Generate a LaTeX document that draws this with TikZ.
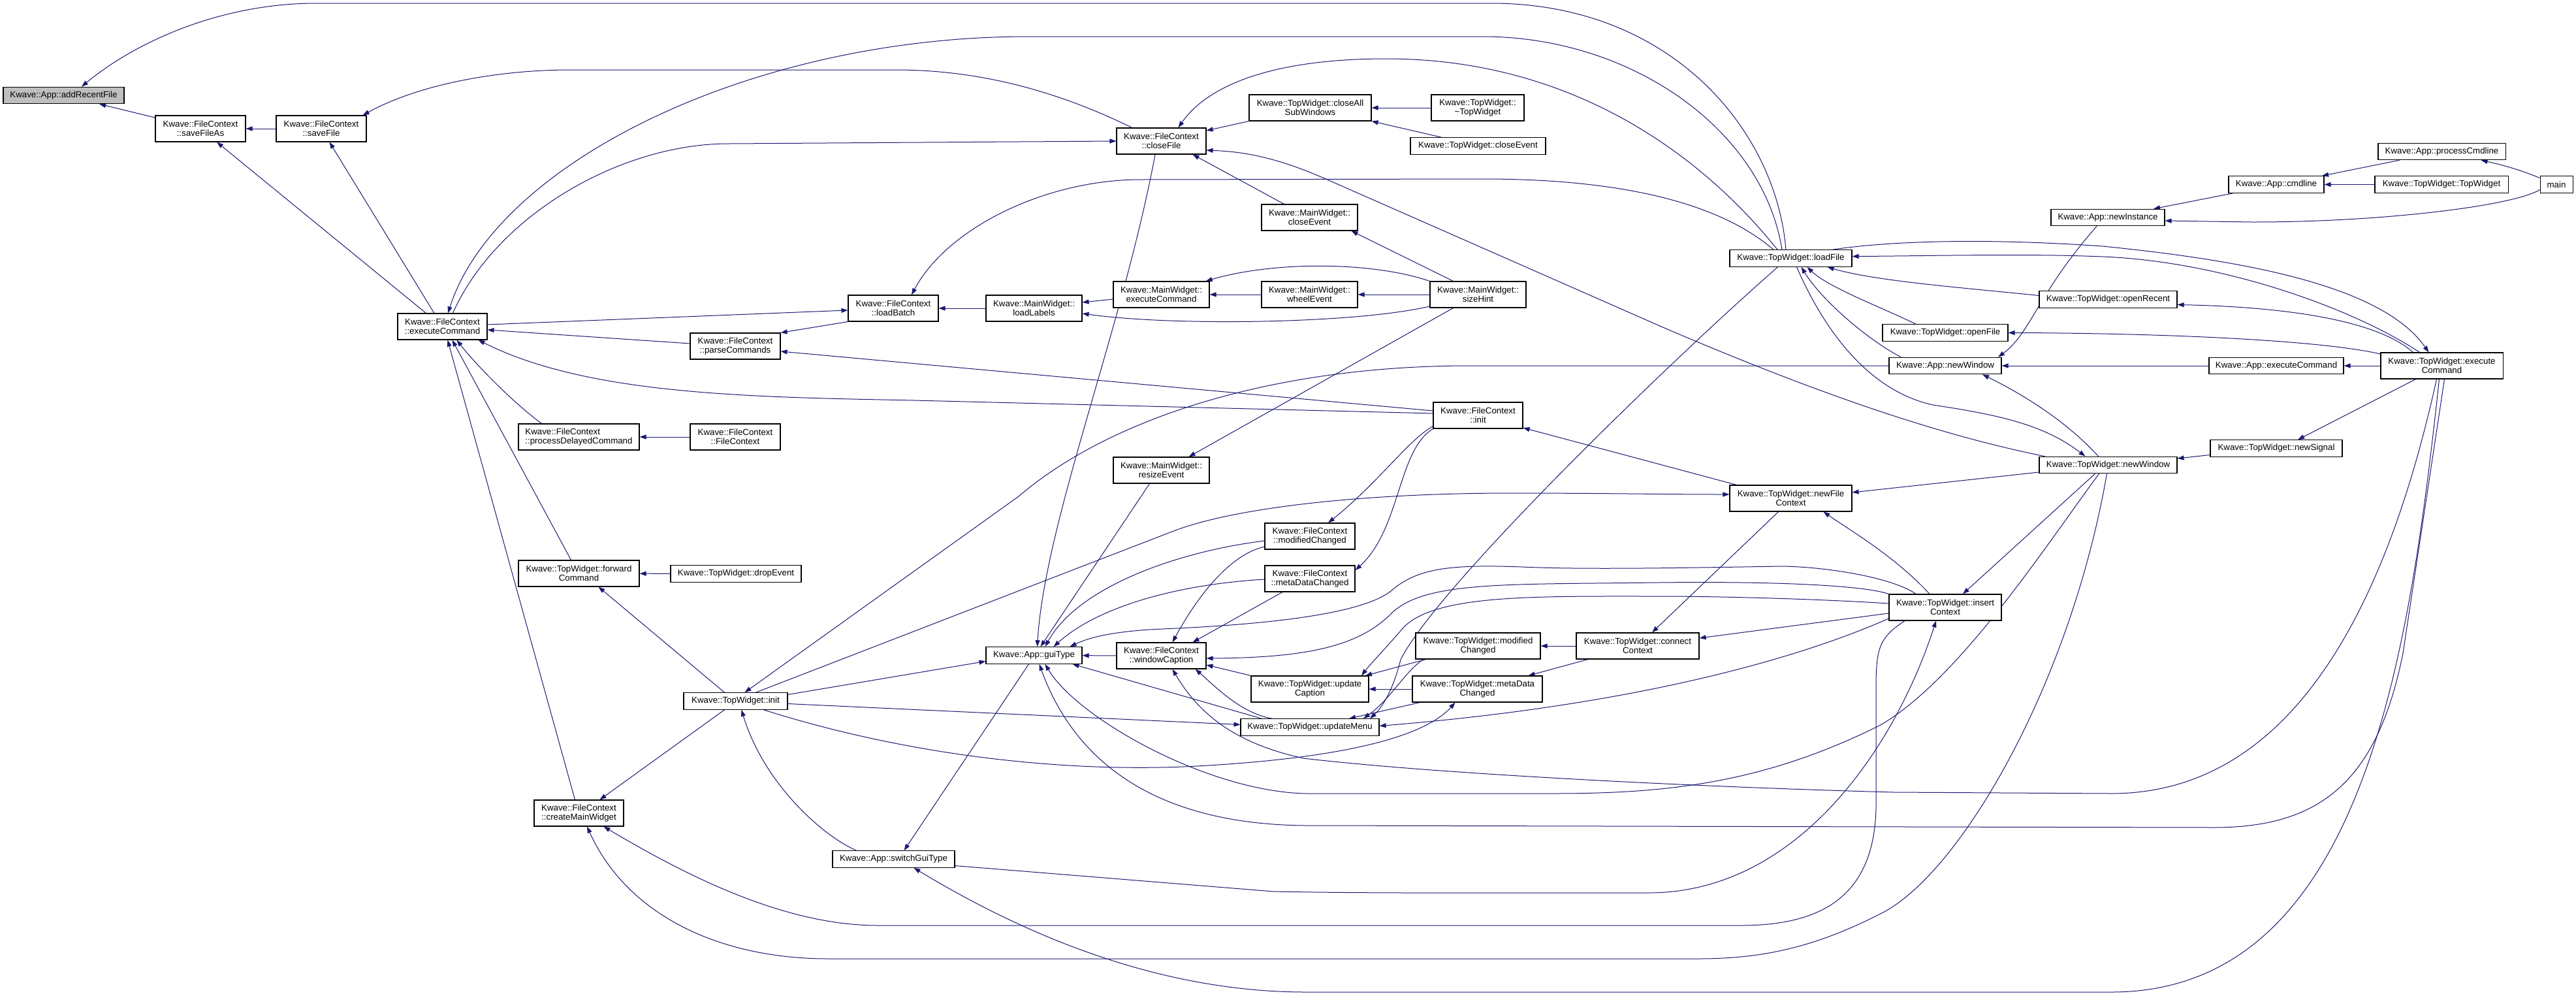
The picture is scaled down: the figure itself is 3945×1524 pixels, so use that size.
\documentclass[tikz,border=0pt]{standalone}
\usepackage{fontspec}
\setmainfont{Liberation Sans}
\usetikzlibrary{arrows.meta}
\definecolor{edgeblue}{HTML}{191970}
\definecolor{rootgray}{HTML}{BFBFBF}
\pgfdeclarelayer{edges}
\pgfsetlayers{edges,main}
\begin{document}
\begin{tikzpicture}[x=1pt,y=-1pt,
  nb/.style={draw=black, line width=1.1pt, fill=white, inner sep=0pt, align=center,
    font=\fontsize{13.3}{14.3}\selectfont, minimum height=25.5pt},
  two/.style={minimum height=40pt},
  cl/.style={draw=edgeblue, line width=1pt, -{Triangle[length=10pt,width=7pt]}}
]
\useasboundingbox (0,0) rectangle (3945,1524);
% ---------------- nodes ----------------
\node[nb,minimum width=185pt,fill=rootgray] (addRecentFile) at (97.5,146) {Kwave::App::addRecentFile};
\node[nb,two,minimum width=138pt] (saveFileAs) at (307,197) {Kwave::FileContext\\::saveFileAs};
\node[nb,two,minimum width=138pt] (saveFile) at (492,197) {Kwave::FileContext\\::saveFile};
\node[nb,two,minimum width=137pt] (execCmdFC) at (677.5,500) {Kwave::FileContext\\::executeCommand};
\node[nb,two,minimum width=185pt,align=left] (processDelayed) at (886.5,669) {Kwave::FileContext\\::processDelayedCommand};
\node[nb,two,minimum width=185pt] (forwardCmd) at (886.5,878) {Kwave::TopWidget::forward\\Command};
\node[nb,two,minimum width=137pt] (createMainWidget) at (886.5,1245) {Kwave::FileContext\\::createMainWidget};
\node[nb,two,minimum width=138pt] (parseCommands) at (1126,530) {Kwave::FileContext\\::parseCommands};
\node[nb,two,minimum width=138pt] (fcCtor) at (1126,669) {Kwave::FileContext\\::FileContext};
\node[nb,minimum width=200pt] (dropEvent) at (1127,878.5) {Kwave::TopWidget::dropEvent};
\node[nb,minimum width=159pt] (twInit) at (1126.5,1073.5) {Kwave::TopWidget::init};
\node[nb,two,minimum width=138pt] (loadBatch) at (1368,472) {Kwave::FileContext\\::loadBatch};
\node[nb,minimum width=187pt] (switchGuiType) at (1368.5,1315.5) {Kwave::App::switchGuiType};
\node[nb,two,minimum width=147pt] (loadLabels) at (1583.5,472) {Kwave::MainWidget::\\loadLabels};
\node[nb,minimum width=147pt] (guiType) at (1583.5,1003.5) {Kwave::App::guiType};
\node[nb,two,minimum width=137pt] (closeFile) at (1778.5,216) {Kwave::FileContext\\::closeFile};
\node[nb,two,minimum width=147pt] (mwExecCmd) at (1778.5,451) {Kwave::MainWidget::\\executeCommand};
\node[nb,two,minimum width=147pt] (resizeEvent) at (1778.5,720) {Kwave::MainWidget::\\resizeEvent};
\node[nb,two,minimum width=137pt] (windowCaption) at (1778.5,1004) {Kwave::FileContext\\::windowCaption};
\node[nb,two,minimum width=187pt] (closeAllSub) at (2006.5,165) {Kwave::TopWidget::closeAll\\SubWindows};
\node[nb,two,minimum width=147pt] (mwCloseEvent) at (2005.5,333) {Kwave::MainWidget::\\closeEvent};
\node[nb,two,minimum width=147pt] (wheelEvent) at (2005.5,451) {Kwave::MainWidget::\\wheelEvent};
\node[nb,two,minimum width=138pt] (fcModified) at (2006,821) {Kwave::FileContext\\::modifiedChanged};
\node[nb,two,minimum width=138pt] (fcMetaData) at (2006,886) {Kwave::FileContext\\::metaDataChanged};
\node[nb,two,minimum width=180pt] (updateCaption) at (2006,1055) {Kwave::TopWidget::update\\Caption};
\node[nb,minimum width=212pt] (updateMenu) at (2006,1113.5) {Kwave::TopWidget::updateMenu};
\node[nb,two,minimum width=142pt] (dtor) at (2263,165) {Kwave::TopWidget::\\\textasciitilde TopWidget};
\node[nb,minimum width=207pt] (twCloseEvent) at (2263.5,223.5) {Kwave::TopWidget::closeEvent};
\node[nb,two,minimum width=147pt] (sizeHint) at (2263.5,451) {Kwave::MainWidget::\\sizeHint};
\node[nb,two,minimum width=137pt] (fcInit) at (2263.5,636) {Kwave::FileContext\\::init};
\node[nb,two,minimum width=191pt] (twModified) at (2263.5,989) {Kwave::TopWidget::modified\\Changed};
\node[nb,two,minimum width=199pt] (twMetaData) at (2262.5,1055) {Kwave::TopWidget::metaData\\Changed};
\node[nb,two,minimum width=188pt] (connectContext) at (2508,989) {Kwave::TopWidget::connect\\Context};
\node[nb,minimum width=187pt] (loadFile) at (2742.5,395.5) {Kwave::TopWidget::loadFile};
\node[nb,two,minimum width=187pt] (newFileContext) at (2742.5,763) {Kwave::TopWidget::newFile\\Context};
\node[nb,minimum width=192pt] (openFile) at (2979,509.5) {Kwave::TopWidget::openFile};
\node[nb,minimum width=172pt] (appNewWindow) at (2979,560) {Kwave::App::newWindow};
\node[nb,two,minimum width=172pt] (insertContext) at (2979,930) {Kwave::TopWidget::insert\\Context};
\node[nb,minimum width=174pt] (newInstance) at (3228,333) {Kwave::App::newInstance};
\node[nb,minimum width=211pt] (openRecent) at (3228.5,458.5) {Kwave::TopWidget::openRecent};
\node[nb,minimum width=211pt] (twNewWindow) at (3228.5,712) {Kwave::TopWidget::newWindow};
\node[nb,minimum width=146pt] (cmdline) at (3486,282.5) {Kwave::App::cmdline};
\node[nb,minimum width=206pt] (appExecCmd) at (3486,560) {Kwave::App::executeCommand};
\node[nb,minimum width=202pt] (newSignal) at (3486,686.5) {Kwave::TopWidget::newSignal};
\node[nb,minimum width=195pt] (processCmdline) at (3739.5,232) {Kwave::App::processCmdline};
\node[nb,minimum width=204pt] (twCtor) at (3739,282.5) {Kwave::TopWidget::TopWidget};
\node[nb,two,minimum width=187pt] (twExecCmd) at (3739.5,560) {Kwave::TopWidget::execute\\Command};
\node[nb,minimum width=50pt] (main) at (3915,282.5) {main};
% ---------------- edges ----------------
\begin{pgfonlayer}{edges}
\draw[cl] (saveFileAs) -- (addRecentFile);
\draw[cl] ([xshift=-7.5pt]loadFile.north) .. controls (2720,200) and (2560,5) .. (2283,5) -- (485,5) .. controls (330,5) and (200,70) .. ([xshift=27.5pt]addRecentFile.north);
\draw[cl] (saveFile) -- (saveFileAs);
\draw[cl] (execCmdFC) -- (saveFileAs);
\draw[cl] (execCmdFC) -- (saveFile);
\draw[cl] ([xshift=-45pt]closeFile.north) .. controls (1600,130) and (1480,107) .. (1371,107) -- (874,107) .. controls (760,107) and (640,130) .. ([xshift=-6pt]saveFile.north east);
\draw[cl] ([xshift=-13.5pt]loadFile.north) .. controls (2700,200) and (2500,56) .. (2270,56) -- (1575,56) .. controls (1150,56) and (760,250) .. ([xshift=8.5pt]execCmdFC.north);
\draw[cl] ([xshift=16pt]execCmdFC.north) .. controls (760,330) and (950,220) .. (1116,220) -- (closeFile.west);
\draw[cl] ([yshift=3pt]execCmdFC.east) -- ([yshift=-3pt]loadBatch.west);
\draw[cl] ([yshift=4pt]parseCommands.west) -- ([yshift=-5pt]execCmdFC.east);
\draw[cl] ([yshift=3pt]fcInit.west) -- (1400,613) .. controls (1150,608) and (900,605) .. ([xshift=55pt]execCmdFC.south);
\draw[cl] ([xshift=-57pt]processDelayed.north) .. controls (790,620) and (730,560) .. ([xshift=22pt]execCmdFC.south);
\draw[cl] ([xshift=-12pt]forwardCmd.north) -- ([xshift=15pt]execCmdFC.south);
\draw[cl] ([xshift=-6pt]createMainWidget.north) -- ([xshift=8pt]execCmdFC.south);
\draw[cl] (fcCtor) -- (processDelayed);
\draw[cl] (dropEvent) -- (forwardCmd);
\draw[cl] ([xshift=-17pt]twInit.north) -- ([xshift=30pt]forwardCmd.south);
\draw[cl] ([xshift=-17pt]twInit.south) -- ([xshift=32pt]createMainWidget.north);
\draw[cl] ([xshift=-62pt]insertContext.south) .. controls (2880,975) and (2873,990) .. (2873,1050) -- (2873,1237) .. controls (2870,1380) and (2780,1417) .. (2665,1417) -- (1345,1417) .. controls (1200,1417) and (1050,1340) .. ([xshift=38pt]createMainWidget.south);
\draw[cl] ([xshift=-2pt]twNewWindow.south) .. controls (3170,1050) and (3000,1340) .. (2880,1399) .. controls (2780,1450) and (2700,1468) .. (2600,1468) -- (1269,1468) .. controls (1100,1468) and (960,1400) .. ([xshift=12.5pt]createMainWidget.south);
\draw[cl] (closeAllSub.south west) -- ([yshift=16pt]closeFile.east);
\draw[cl] ([xshift=-39pt]mwCloseEvent.north) -- ([xshift=48pt]closeFile.south);
\draw[cl] ([xshift=-97pt]twNewWindow.north) .. controls (2980,668) and (2800,610) .. (2544,500) -- (2028,273) .. controls (1950,239) and (1900,232) .. ([yshift=-14pt]closeFile.east);
\draw[cl] ([xshift=-20.5pt]loadFile.north) .. controls (2600,230) and (2400,90) .. (2123,90) .. controls (1950,90) and (1850,130) .. ([xshift=26pt]closeFile.north);
\draw[cl] ([xshift=-9.5pt]closeFile.south) .. controls (1720,500) and (1600,800) .. ([xshift=5pt]guiType.north);
\draw[cl] (dtor) -- (closeAllSub);
\draw[cl] ([xshift=-56pt]twCloseEvent.north) -- (closeAllSub.south east);
\draw[cl] ([xshift=-38pt]sizeHint.north) -- ([xshift=64pt]mwCloseEvent.south);
\draw[cl] (sizeHint) -- (wheelEvent);
\draw[cl] (wheelEvent) -- (mwExecCmd);
\draw[cl] (sizeHint.north west) .. controls (2100,400) and (1950,400) .. ([xshift=-6pt]mwExecCmd.north east);
\draw[cl] ([yshift=-7pt]mwExecCmd.west) -- ([yshift=9pt]loadLabels.east);
\draw[cl] ([yshift=-18pt]sizeHint.west) .. controls (2080,495) and (1800,500) .. ([yshift=-8pt]loadLabels.east);
\draw[cl] (loadLabels) -- (loadBatch);
\draw[cl] ([xshift=-26.5pt]loadFile.north) .. controls (2620,300) and (2450,274) .. (2270,274) -- (1747,275) .. controls (1600,275) and (1450,350) .. ([xshift=28pt]loadBatch.north);
\draw[cl] (loadBatch.south west) -- (parseCommands.north east);
\draw[cl] ([yshift=7pt]fcInit.west) -- ([yshift=-8pt]parseCommands.east);
\draw[cl] ([xshift=-38pt]sizeHint.south) -- ([xshift=42pt]resizeEvent.north);
\draw[cl] ([xshift=-18pt]resizeEvent.south) -- ([xshift=10pt]guiType.north);
\draw[cl] ([xshift=-8pt]guiType.south) -- ([xshift=16pt]switchGuiType.north);
\draw[cl] ([yshift=-17pt]fcInit.west) .. controls (2160,670) and (2110,740) .. ([xshift=28pt]fcModified.north);
\draw[cl] (fcInit.south west) .. controls (2140,690) and (2145,810) .. ([yshift=13pt]fcMetaData.east);
\draw[cl] ([xshift=-83pt]newFileContext.north) -- ([yshift=-19pt]fcInit.east);
\draw[cl] ([xshift=31pt]twInit.north) -- (1800,812) .. controls (1900,775) and (2100,755) .. (2315,755) .. controls (2450,755) and (2550,757) .. ([yshift=6pt]newFileContext.west);
\draw[cl] ([yshift=-11pt]twNewWindow.west) -- ([yshift=9pt]newFileContext.east);
\draw[cl] ([xshift=-24pt]insertContext.north) .. controls (2900,850) and (2830,810) .. ([xshift=50pt]newFileContext.south);
\draw[cl] (appNewWindow.west) -- (2251,560) .. controls (1950,560) and (1700,640) .. (1560,760) -- ([xshift=14pt]twInit.north);
\draw[cl] ([xshift=-57pt]switchGuiType.north) .. controls (1260,1280) and (1170,1200) .. ([xshift=9pt]twInit.south);
\draw[cl] ([yshift=10pt]twInit.east) -- ([yshift=-9pt]guiType.west);
\draw[cl] ([yshift=-4pt]twInit.east) -- ([yshift=4pt]updateMenu.west);
\draw[cl] ([xshift=43pt]twInit.south) .. controls (1400,1160) and (1650,1185) .. (1850,1172) .. controls (2050,1160) and (2180,1130) .. ([xshift=-34pt]twMetaData.south);
\draw[cl] ([yshift=-7pt]fcModified.west) .. controls (1800,845) and (1650,900) .. ([xshift=17pt]guiType.north);
\draw[cl] ([yshift=-1pt]fcMetaData.west) .. controls (1800,895) and (1680,930) .. ([xshift=30pt]guiType.north);
\draw[cl] ([xshift=-45pt]insertContext.north) .. controls (2900,885) and (2800,868) .. (2729,867) .. controls (2550,870) and (2420,872) .. (2330,868) .. controls (2220,864) and (2170,870) .. (2130,905) .. controls (2080,945) and (1900,958) .. (1780,963) .. controls (1710,966) and (1670,975) .. ([xshift=55pt]guiType.north);
\draw[cl] (windowCaption) -- (guiType);
\draw[cl] ([xshift=-4pt]twExecCmd.south) .. controls (3690,1000) and (3620,1519) .. (3233,1519) -- (2000,1519) .. controls (1800,1519) and (1600,1450) .. ([xshift=31pt]switchGuiType.south);
\draw[cl] ([yshift=-10pt]switchGuiType.east) -- (1950,1365) .. controls (2100,1368) and (2300,1367) .. (2525,1367) .. controls (2750,1367) and (2900,1150) .. ([xshift=-14pt]insertContext.south);
\draw[cl] (updateCaption.north west) -- ([yshift=-14pt]windowCaption.east);
\draw[cl] ([xshift=-58pt]updateMenu.north) .. controls (1900,1092) and (1860,1050) .. ([xshift=52pt]windowCaption.south);
\draw[cl] ([xshift=-74pt]updateMenu.north) -- ([xshift=59pt]guiType.south);
\draw[cl] ([xshift=-8pt]twExecCmd.south) .. controls (3650,950) and (3500,1215) .. (3233,1215) -- (2900,1213) .. controls (2600,1205) and (2200,1185) .. (1996,1161) .. controls (1900,1140) and (1840,1100) .. ([xshift=17pt]windowCaption.south);
\draw[cl] ([xshift=-14pt]twNewWindow.south) .. controls (3130,840) and (3000,1040) .. (2880,1110) .. controls (2700,1200) and (2550,1215) .. (2378,1215) -- (2000,1215) .. controls (1850,1212) and (1650,1100) .. ([xshift=17pt]guiType.south);
\draw[cl] ([xshift=4pt]twExecCmd.south) -- (3680,1000) .. controls (3640,1200) and (3550,1267) .. (3390,1267) -- (2000,1264) .. controls (1750,1262) and (1640,1150) .. ([xshift=8pt]guiType.south);
\draw[cl] (insertContext.north west) .. controls (2850,895) and (2700,890) .. (2538,892) .. controls (2300,895) and (2180,890) .. (2130,940) .. controls (2080,990) and (2000,1007) .. ([yshift=-4pt]windowCaption.east);
\draw[cl] ([yshift=6pt]insertContext.west) .. controls (2800,918) and (2650,913) .. (2538,913) .. controls (2350,913) and (2200,910) .. (2150,960) .. controls (2120,995) and (2100,1015) .. ([xshift=79pt]updateCaption.north);
\draw[cl] ([yshift=-9pt]insertContext.west) -- ([yshift=12pt]connectContext.east);
\draw[cl] ([yshift=-17pt]insertContext.west) .. controls (2750,1010) and (2500,1080) .. ([yshift=2pt]updateMenu.east);
\draw[cl] ([xshift=-20pt]loadFile.south) .. controls (2550,560) and (2200,900) .. (2145,1010) .. controls (2135,1050) and (2120,1080) .. ([xshift=92pt]updateMenu.north);
\draw[cl] ([xshift=-80pt]twModified.south) -- ([xshift=85pt]updateCaption.north);
\draw[cl] (twMetaData) -- (updateCaption);
\draw[cl] ([xshift=-88pt]twMetaData.south) -- ([xshift=60pt]updateMenu.north);
\draw[cl] ([xshift=-84pt]twModified.south) .. controls (2150,1030) and (2130,1070) .. ([xshift=82pt]updateMenu.north);
\draw[cl] ([xshift=-76pt]connectContext.south) -- ([xshift=78pt]twMetaData.north);
\draw[cl] (connectContext) -- (twModified);
\draw[cl] ([xshift=-19pt]newFileContext.south) -- ([xshift=22pt]connectContext.north);
\draw[cl] ([xshift=-20pt]twNewWindow.south) -- ([xshift=27pt]insertContext.north);
\draw[cl] ([yshift=-10pt]newSignal.west) -- ([yshift=10pt]twNewWindow.east);
\draw[cl] ([xshift=-40pt]twExecCmd.south) -- ([xshift=33pt]newSignal.north);
\draw[cl] ([xshift=9pt]loadFile.south) .. controls (2800,520) and (2870,600) .. (2960,620) .. controls (3060,635) and (3130,650) .. ([xshift=-35pt]twNewWindow.north);
\draw[cl] ([xshift=-68pt]appNewWindow.north) .. controls (2860,520) and (2790,460) .. ([xshift=16pt]loadFile.south);
\draw[cl] ([xshift=-45pt]openFile.north) .. controls (2880,470) and (2800,440) .. ([xshift=25pt]loadFile.south);
\draw[cl] ([yshift=6pt]openRecent.west) .. controls (3000,440) and (2870,430) .. ([xshift=56pt]loadFile.south);
\draw[cl] ([xshift=-34pt]twExecCmd.north) .. controls (3600,470) and (3400,400) .. (3220,393) .. controls (3100,388) and (2950,392) .. ([yshift=3pt]loadFile.east);
\draw[cl] ([xshift=64pt]loadFile.north) .. controls (2900,368) and (3050,365) .. (3220,377) .. controls (3450,400) and (3650,440) .. ([xshift=-20pt]twExecCmd.north);
\draw[cl] ([xshift=-44pt]twExecCmd.north) .. controls (3640,490) and (3500,470) .. ([yshift=-8pt]openRecent.east);
\draw[cl] ([yshift=18pt]twExecCmd.west) .. controls (3550,520) and (3300,510) .. (openFile.east);
\draw[cl] ([xshift=-17pt]newInstance.south) .. controls (3120,450) and (3110,510) .. ([xshift=81pt]appNewWindow.north);
\draw[cl] (appExecCmd) -- (appNewWindow);
\draw[cl] ([xshift=-15pt]twNewWindow.north) .. controls (3160,640) and (3090,600) .. ([xshift=57pt]appNewWindow.south);
\draw[cl] (twExecCmd) -- (appExecCmd);
\draw[cl] ([xshift=-66pt]cmdline.south) -- ([xshift=70pt]newInstance.north);
\draw[cl] ([yshift=-8pt]main.west) .. controls (3850,315) and (3650,340) .. (3450,340) -- ([yshift=-5pt]newInstance.east);
\draw[cl] ([xshift=-65pt]processCmdline.south) -- ([xshift=70pt]cmdline.north);
\draw[cl] (twCtor) -- (cmdline);
\draw[cl] ([yshift=10pt]main.west) .. controls (3860,260) and (3830,252) .. ([xshift=60pt]processCmdline.south);
\draw[cl] ([yshift=-16pt]fcModified.west) .. controls (1880,850) and (1830,920) .. ([xshift=17pt]windowCaption.north);
\draw[cl] ([xshift=-42pt]fcMetaData.south) -- ([xshift=48pt]windowCaption.north);
\end{pgfonlayer}
\end{tikzpicture}
\end{document}
